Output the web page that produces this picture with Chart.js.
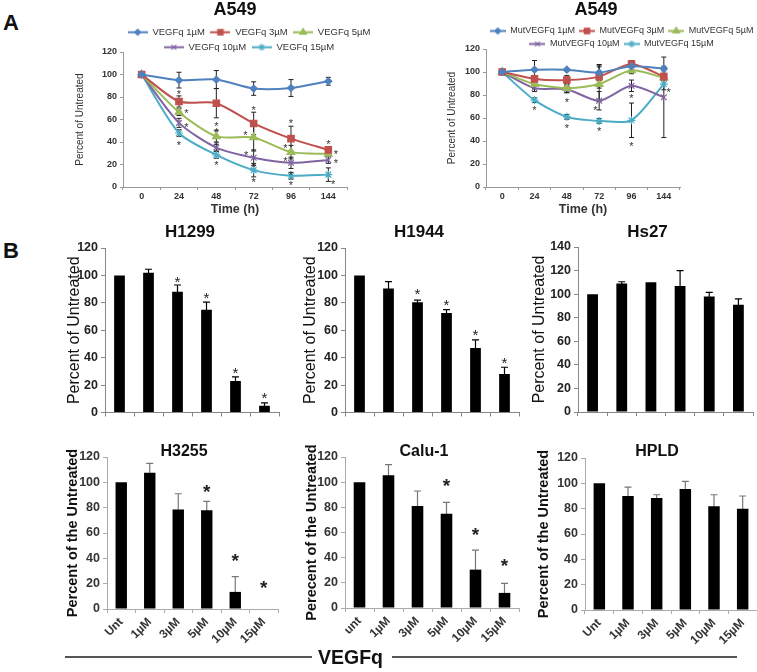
<!DOCTYPE html>
<html>
<head>
<meta charset="utf-8">
<title>VEGFq viability</title>
<script src="https://cdn.jsdelivr.net/npm/chart.js@4.4.1/dist/chart.umd.min.js"></script>
<style>
  body { margin: 0; background: #fff; font-family: Arial, "Liberation Sans", sans-serif; }
  #page { position: relative; width: 757px; height: 672px; overflow: hidden; }
  canvas { position: absolute; }
  .tag { position: absolute; font-size: 22px; font-weight: bold; line-height: 1; color: #111; }
  .rule { position: absolute; top: 656px; height: 2px; background: #555; }
  #vegfq { position: absolute; left: 318px; top: 645px; font-size: 19.5px; font-weight: bold; line-height: 24px; color: #111; }
</style>
</head>
<body>
<div id="page">
  <div class="tag" style="left:3px;top:12px">A</div>
  <div class="tag" style="left:3px;top:240px">B</div>

  <canvas id="a549-wt" width="320" height="221" style="left:65px;top:0"></canvas>
  <canvas id="a549-mut" width="320" height="221" style="left:437px;top:0"></canvas>

  <canvas id="h1299" width="222" height="201" style="left:60px;top:222px"></canvas>
  <canvas id="h1944" width="226" height="201" style="left:296px;top:222px"></canvas>
  <canvas id="hs27" width="232" height="201" style="left:525px;top:222px"></canvas>

  <canvas id="h3255" width="220" height="209" style="left:60px;top:441px"></canvas>
  <canvas id="calu1" width="222" height="209" style="left:299px;top:441px"></canvas>
  <canvas id="hpld" width="226" height="209" style="left:531px;top:441px"></canvas>

  <div class="rule" style="left:65px;width:247px"></div>
  <div id="vegfq">VEGFq</div>
  <div class="rule" style="left:392px;width:345px"></div>
</div>

<script>
// ---- Panel A: A549, percent of untreated over time ----
const timeLabels = ['0', '24', '48', '72', '96', '144'];
const doseNames = ['1µM', '3µM', '5µM', '10µM', '15µM'];

const vegfq1 = [100, 95, 95.5, 87.5, 88, 94];
const vegfq1Err = [0, 7, 8, 6, 7.5, 3.5];
const vegfq3 = [100, 76, 74.5, 56.5, 43, 33];
const vegfq3Err = [0, 5, 13, 10, 11, 3];
const vegfq5 = [100, 66.5, 45, 44, 31, 29.5];
const vegfq5Err = [0, 3, 5, 12, 6, 2];
const vegfq10 = [100, 57, 35, 26, 21.5, 24];
const vegfq10Err = [0, 4, 3, 7, 5, 3];
const vegfq15 = [100, 48, 28.5, 15, 10, 11];
const vegfq15Err = [0, 3, 3, 6, 3, 6];
// asterisks: [time index, percent]
const vegfqStars = [[1, 85], [1.2, 68], [1.2, 55.5], [1, 39.5], [2, 56], [2, 50.5], [2, 39], [2, 21.5],
  [3, 70], [2.78, 48], [2.8, 30], [3, 19.5], [3, 6.5], [4, 59], [3.85, 37], [3.85, 25], [4, 13], [4, 4],
  [5, 40.5], [5.2, 31], [5.2, 23.5], [5.13, 5]];

const mut1 = [100, 102, 102, 99.5, 105, 103];
const mut1Err = [0, 8, 1, 7, 3, 2];
const mut3 = [100, 94, 93, 96, 107, 96];
const mut3Err = [0, 3, 4, 10, 3, 3];
const mut5 = [100, 89.5, 86, 89.5, 101.5, 95];
const mut5Err = [0, 4, 4, 15, 3, 2];
const mut10 = [100, 86, 85, 75, 88, 78];
const mut10Err = [0, 3, 3, 8, 5, 35];
const mut15 = [100, 75.5, 61, 57.5, 58, 89.5];
const mut15Err = [0, 2, 2, 2, 15, 5];
const mutStars = [[1, 68.5], [2, 75.5], [2, 53.5], [2.88, 68.5], [3, 51], [4, 79], [4, 38], [5.15, 84.5]];

// ---- Panel B: dose response ----
const doseLabels = ['Unt', '1µM', '3µM', '5µM', '10µM', '15µM'];
const caluLabels = ['unt', '1µM', '3µM', '5µM', '10µM', '15µM'];

const h1299 = [100, 102, 88, 75, 23, 5];
const h1299Err = [0, 2.5, 5, 5.5, 3, 2];
const h1299Stars = [[2, 97.5], [3, 86], [4, 31], [5, 13]];
const h1944 = [100, 90.5, 80.5, 72.5, 47, 28];
const h1944Err = [0, 5, 1.5, 2.5, 6, 5];
const h1944Stars = [[2, 89], [3, 81], [4, 59], [5, 39]];
const hs27 = [100, 109, 110, 107, 98, 91];
const hs27Err = [0, 1.5, 0, 13, 3.5, 5];

const h3255 = [100, 107.5, 78.5, 78, 13.5, 0];
const h3255Err = [0, 7.5, 12.5, 7, 12, 0];
const h3255Stars = [[3, 96.5], [4, 41.5], [5, 20.5]];
const calu1 = [100, 105.5, 81, 75, 30.5, 12];
const calu1Err = [0, 8.5, 12, 9, 15.5, 7.5];
const calu1Stars = [[3, 101], [4, 62], [5, 37.5]];
const hpld = [100, 90, 88.5, 95.5, 82, 80];
const hpldErr = [0, 7, 2.5, 6, 9, 10];

const seriesColors = ['#4f81bd', '#c0504d', '#9bbb59', '#8064a2', '#4bacc6'];
const seriesMarkers = ['rectRot', 'rect', 'triangle', 'crossRot', 'star'];
const markerSizes = [3.5, 4.5, 4.5, 4, 4];
const narrowFont = '"Liberation Sans Narrow", "Arial Narrow", Arial, sans-serif';

Chart.defaults.font.family = 'Arial, "Liberation Sans", sans-serif';

// shift title / legend boxes after layout: [dx, dy]
const nudge = {
    id: 'nudge',
    afterLayout(chart, args, opts) {
        const move = (box, d) => {
            if (!box || !d) return;
            box.left += d[0]; box.right += d[0];
            box.top += d[1]; box.bottom += d[1];
        };
        move(chart.titleBlock, opts.title);
        move(chart.legend, opts.legend);
    }
};

// error bars from dataset.errors, asterisks from options
const errorBars = {
    id: 'errorBars',
    beforeDatasetsDraw(chart, args, opts) {
        const ctx = chart.ctx;
        const y = chart.scales.y;
        ctx.save();
        ctx.strokeStyle = opts.color;
        ctx.lineWidth = opts.width;
        chart.data.datasets.forEach((ds, i) => {
            if (!ds.errors) return;
            chart.getDatasetMeta(i).data.forEach((el, j) => {
                const e = ds.errors[j];
                if (!e) return;
                const top = y.getPixelForValue(ds.data[j] + e);
                const bot = y.getPixelForValue(ds.data[j] - e);
                ctx.beginPath();
                ctx.moveTo(el.x, bot); ctx.lineTo(el.x, top);
                ctx.moveTo(el.x - opts.cap, top); ctx.lineTo(el.x + opts.cap, top);
                ctx.moveTo(el.x - opts.cap, bot); ctx.lineTo(el.x + opts.cap, bot);
                ctx.stroke();
            });
        });
        ctx.restore();
    },
    afterDatasetsDraw(chart, args, opts) {
        if (!opts.stars) return;
        const {ctx, scales: {x, y}} = chart;
        ctx.save();
        ctx.fillStyle = opts.starColor;
        ctx.font = opts.starWeight + ' ' + opts.starSize + 'px Arial, "Liberation Sans", sans-serif';
        ctx.textAlign = 'center';
        ctx.textBaseline = 'alphabetic';
        opts.stars.forEach(([i, v]) => {
            ctx.fillText('*', x.getPixelForValue(i), y.getPixelForValue(v) + 0.565 * opts.starSize);
        });
        ctx.restore();
    }
};

function legendIcon(i, w) {
    const c = document.createElement('canvas');
    c.width = w;
    c.height = 11;
    const g = c.getContext('2d');
    g.strokeStyle = seriesColors[i];
    g.fillStyle = seriesColors[i];
    g.lineWidth = 2;
    g.beginPath();
    g.moveTo(0, 5.5);
    g.lineTo(w, 5.5);
    g.stroke();
    g.lineWidth = 1.2;
    Chart.helpers.drawPoint(g, {pointStyle: seriesMarkers[i], radius: markerSizes[i] * 0.85, borderWidth: 1.2}, w / 2, 5.5);
    return c;
}

function timeChart(id, prefix, means, errs, stars, o) {
    const icons = means.map((m, i) => legendIcon(i, o.iconW));
    const datasets = means.map((m, i) => ({
        label: prefix + ' ' + doseNames[i],
        data: m,
        errors: errs[i],
        borderColor: seriesColors[i],
        backgroundColor: seriesColors[i],
        borderWidth: 2,
        tension: 0.25,
        pointStyle: seriesMarkers[i],
        pointRadius: markerSizes[i],
        pointBorderWidth: 1.2
    }));

    new Chart(document.getElementById(id), {
        type: 'line',
        data: { labels: timeLabels, datasets: datasets },
        options: {
            responsive: false,
            animation: false,
            plugins: {
                title: {
                    display: true, text: 'A549', fullSize: false, color: '#111',
                    font: { size: 18, weight: 'bold', lineHeight: 1 },
                    padding: { top: 1, bottom: o.titleGap }
                },
                legend: {
                    position: 'top',
                    labels: {
                        usePointStyle: true,
                        pointStyleWidth: o.iconW,
                        color: '#333',
                        font: { size: o.legendSize },
                        padding: o.legendPad,
                        generateLabels(chart) {
                            const items = Chart.defaults.plugins.legend.labels.generateLabels(chart);
                            items.forEach((it, i) => { it.pointStyle = icons[i]; });
                            return items;
                        }
                    }
                },
                tooltip: { enabled: false },
                nudge: { title: [o.titleDx, 0], legend: [o.legendDx, o.legendDy] },
                errorBars: { color: '#222', width: 1, cap: 2.5, stars: stars, starSize: 11, starWeight: 'normal', starColor: '#333' }
            },
            scales: {
                x: {
                    offset: true,
                    grid: { offset: true, drawOnChartArea: false, color: '#999', tickLength: 3 },
                    border: { color: '#999' },
                    ticks: { color: '#333', padding: 1, font: { size: 9, weight: 'bold' } },
                    title: {
                        display: true, text: 'Time (h)', color: '#333',
                        font: { size: 12.5, weight: 'bold', lineHeight: 1.2 },
                        padding: { top: 0, bottom: 3.5 }
                    },
                    afterFit: s => { s.height = 34; }
                },
                y: {
                    min: 0, max: 120,
                    ticks: { stepSize: 20, color: '#333', padding: 3, font: { size: 9, weight: 'bold' } },
                    grid: { drawOnChartArea: false, color: '#999', tickLength: 3 },
                    border: { color: '#999' },
                    title: {
                        display: true, text: 'Percent of Untreated', color: '#333',
                        font: { size: 10, lineHeight: 1.2 },
                        padding: { top: 9, bottom: 0 }
                    },
                    afterFit: s => { s.width = o.yWidth; }
                },
                pad: {
                    position: 'right',
                    grid: { display: false },
                    border: { display: false },
                    ticks: { display: false },
                    afterFit: s => { s.width = o.rightGap; }
                }
            }
        },
        plugins: [nudge, errorBars]
    });
}

const topRow = {
    tickFont: { family: narrowFont, size: 12.5, weight: 'bold' },
    tickColor: '#222',
    yTitleFont: { size: 16, lineHeight: 1.2 },
    titleFont: { size: 17, lineHeight: 1.2 },
    titleTop: 0,
    axisColor: '#888',
    errColor: '#000',
    starSize: 15,
    starWeight: 'normal',
    barPct: 0.37,
    xLabels: false
};

const bottomRow = {
    tickFont: { size: 12.5, weight: 'bold' },
    tickColor: '#333',
    yTitleFont: { size: 14.5, weight: 'bold', lineHeight: 1.2 },
    titleFont: { size: 16, weight: 'bold', lineHeight: 1.2 },
    titleTop: 1.4,
    axisColor: '#aaa',
    errColor: '#777',
    starSize: 19,
    starWeight: 'bold',
    barPct: 0.4,
    xLabels: true
};

function doseChart(id, labels, values, errs, stars, row, o) {
    new Chart(document.getElementById(id), {
        type: 'bar',
        data: {
            labels: labels,
            datasets: [{
                data: values,
                errors: errs,
                backgroundColor: '#000',
                barPercentage: row.barPct,
                categoryPercentage: 1
            }]
        },
        options: {
            responsive: false,
            animation: false,
            layout: { padding: { right: o.padRight } },
            plugins: {
                legend: { display: false },
                tooltip: { enabled: false },
                title: {
                    display: true, text: o.title, fullSize: false, color: '#111',
                    font: row.titleFont,
                    padding: { top: row.titleTop, bottom: o.titleGap }
                },
                nudge: { title: [o.titleDx, 0] },
                errorBars: { color: row.errColor, width: 1.2, cap: 3.5, stars: stars, starSize: row.starSize, starWeight: row.starWeight, starColor: '#222' }
            },
            scales: {
                x: {
                    grid: { offset: true, drawOnChartArea: false, color: row.axisColor, tickLength: 4 },
                    border: { color: row.axisColor },
                    ticks: {
                        display: row.xLabels, autoSkip: false,
                        maxRotation: 45, minRotation: 45,
                        color: '#333', padding: 2,
                        font: { size: 12, weight: 'bold' }
                    },
                    afterFit: s => { s.height = o.xHeight; }
                },
                y: {
                    min: 0, max: o.yMax,
                    ticks: { stepSize: 20, color: row.tickColor, padding: 3, font: row.tickFont },
                    grid: { drawOnChartArea: false, color: row.axisColor, tickLength: 4 },
                    border: { color: row.axisColor },
                    title: {
                        display: true, text: o.yTitle, color: '#111',
                        font: row.yTitleFont,
                        padding: { top: o.yTitlePad, bottom: 0 }
                    },
                    afterFit: s => { s.width = o.yWidth; }
                }
            }
        },
        plugins: [nudge, errorBars]
    });
}

timeChart('a549-wt', 'VEGFq',
    [vegfq1, vegfq3, vegfq5, vegfq10, vegfq15],
    [vegfq1Err, vegfq3Err, vegfq5Err, vegfq10Err, vegfq15Err],
    vegfqStars,
    { iconW: 20, legendSize: 9.5, legendPad: 5.5, titleGap: -7, titleDx: 0, legendDx: 24, legendDy: 10, yWidth: 58, rightGap: 38 });

timeChart('a549-mut', 'MutVEGFq',
    [mut1, mut3, mut5, mut10, mut15],
    [mut1Err, mut3Err, mut5Err, mut10Err, mut15Err],
    mutStars,
    { iconW: 16, legendSize: 9, legendPad: 4, titleGap: -6, titleDx: 13, legendDx: 24.6, legendDy: 9.5, yWidth: 49, rightGap: 77 });

doseChart('h1299', doseLabels, h1299, h1299Err, h1299Stars, topRow,
    { title: 'H1299', yTitle: 'Percent of Untreated', yMax: 120, yWidth: 45, xHeight: 10, padRight: 3, titleGap: 5.6, titleDx: -2, yTitlePad: 5.4 });
doseChart('h1944', doseLabels, h1944, h1944Err, h1944Stars, topRow,
    { title: 'H1944', yTitle: 'Percent of Untreated', yMax: 120, yWidth: 49, xHeight: 10, padRight: 3, titleGap: 5.6, titleDx: -13, yTitlePad: 5.4 });
doseChart('hs27', doseLabels, hs27, hs27Err, null, topRow,
    { title: 'Hs27', yTitle: 'Percent of Untreated', yMax: 140, yWidth: 53, xHeight: 11, padRight: 4, titleGap: 4.6, titleDx: -18, yTitlePad: 5.4 });

doseChart('h3255', doseLabels, h3255, h3255Err, h3255Stars, bottomRow,
    { title: 'H3255', yTitle: 'Percent of the Untreated', yMax: 120, yWidth: 47, xHeight: 41, padRight: 2, titleGap: -4.6, titleDx: -8.5, yTitlePad: 4.3 });
doseChart('calu1', caluLabels, calu1, calu1Err, calu1Stars, bottomRow,
    { title: 'Calu-1', yTitle: 'Perecent of the Untreated', yMax: 120, yWidth: 46, xHeight: 42, padRight: 2, titleGap: -4.6, titleDx: -8, yTitlePad: 4.3 });
doseChart('hpld', doseLabels, hpld, hpldErr, null, bottomRow,
    { title: 'HPLD', yTitle: 'Percent of the Untreated', yMax: 120, yWidth: 54, xHeight: 40, padRight: 0, titleGap: -3.6, titleDx: -14, yTitlePad: 4.3 });
</script>
</body>
</html>
